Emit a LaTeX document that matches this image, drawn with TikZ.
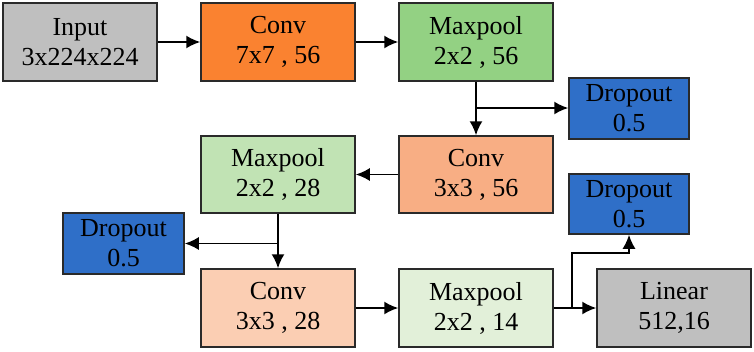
\documentclass[tikz,border=0pt]{standalone}
\usepackage{fontspec}
\setmainfont{Liberation Serif}
\usetikzlibrary{arrows.meta}
\definecolor{cgray}{HTML}{BFBFBF}
\definecolor{corange}{HTML}{FA8230}
\definecolor{cgreen}{HTML}{93D183}
\definecolor{cblue}{HTML}{2F6FC8}
\definecolor{corange2}{HTML}{F8AE84}
\definecolor{cgreen2}{HTML}{C1E3B4}
\definecolor{corange3}{HTML}{FBCEB3}
\definecolor{cgreen3}{HTML}{E2F0D9}
\definecolor{cborder}{HTML}{2A2A2A}
\begin{document}
\begin{tikzpicture}[x=1pt,y=-1pt,
  blk/.style={draw=cborder, line width=1.5pt, minimum width=154pt, minimum height=78pt,
    align=center, inner sep=0pt, font=\fontsize{26}{30}\selectfont},
  drop/.style={blk, fill=cblue, minimum width=120pt, minimum height=61pt},
  conn/.style={line width=1.8pt, -{Latex[length=14pt,width=13pt]}},
  wire/.style={line width=1.8pt}]
\useasboundingbox (0,0) rectangle (754,351);
\node[blk, fill=cgray] (in) at (80,42) {Input\\3x224x224};
\node[blk, fill=corange] (c1) at (278,42) {Conv\\7x7 , 56};
\node[blk, fill=cgreen] (m1) at (476,42) {Maxpool\\2x2 , 56};
\node[drop] (d1) at (629,108.5) {Dropout\\0.5};
\node[blk, fill=corange2, minimum height=77pt] (c2) at (476,174.5) {Conv\\3x3 , 56};
\node[blk, fill=cgreen2, minimum height=77pt] (m2) at (278,174.5) {Maxpool\\2x2 , 28};
\node[drop, minimum width=121pt] (d2) at (123.5,243.5) {Dropout\\0.5};
\node[blk, fill=corange3] (c3) at (278,308) {Conv\\3x3 , 28};
\node[blk, fill=cgreen3] (m3) at (476,308) {Maxpool\\2x2 , 14};
\node[blk, fill=cgray] (lin) at (674,308) {Linear\\512,16};
\node[drop, minimum height=60pt] (d3) at (629,204) {Dropout\\0.5};
\coordinate (b1) at (476,108);
\coordinate (b2) at (278,243.5);
\coordinate (b3) at (572,308);
\coordinate (b3u) at (572,253);
\draw[conn] (in) -- (c1);
\draw[conn] (c1) -- (m1);
\draw[conn] (m1) -- (c2);
\draw[conn] (b1) -- (d1.west |- b1);
\draw[conn] (c2) -- (m2);
\draw[conn] (m2) -- (c3);
\draw[conn] (b2) -- (d2.east |- b2);
\draw[conn] (c3) -- (m3);
\draw[conn] (m3) -- (lin);
\draw[conn] (b3) -- (b3u) -| (d3.south);
\end{tikzpicture}
\end{document}
